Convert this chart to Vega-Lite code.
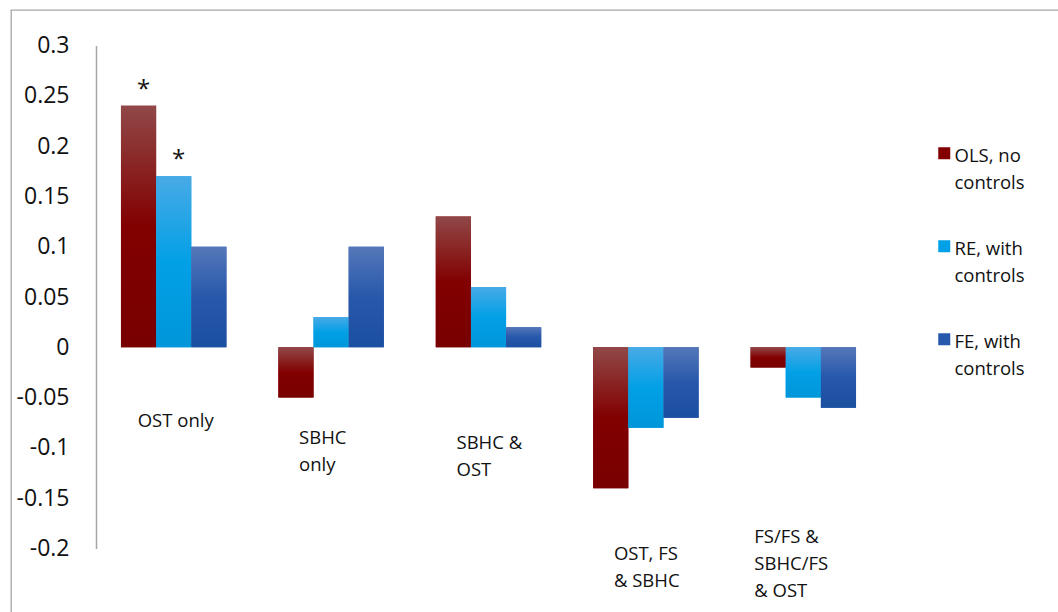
{
  "$schema": "https://vega.github.io/schema/vega-lite/v6.json",
  "width": 1050,
  "height": 605,
  "autosize": {"type": "none"},
  "padding": {"left": 11, "top": 10, "right": -3, "bottom": -3},
  "background": "white",
  "config": {
    "view": {"stroke": "#a6a6a6", "strokeWidth": 1.3},
    "font": "Open Sans",
    "text": {"font": "Open Sans", "color": "#111111"},
    "style": {"guide-label": {"lineHeight": 27}}
  },
  "datasets": {
    "bars": [
      {"category": "OST only", "series": "OLS, no controls", "value": 0.24, "sig": "*"},
      {"category": "OST only", "series": "RE, with controls", "value": 0.17, "sig": "*"},
      {"category": "OST only", "series": "FE, with controls", "value": 0.10, "sig": ""},
      {"category": "SBHC only", "series": "OLS, no controls", "value": -0.05, "sig": ""},
      {"category": "SBHC only", "series": "RE, with controls", "value": 0.03, "sig": ""},
      {"category": "SBHC only", "series": "FE, with controls", "value": 0.10, "sig": ""},
      {"category": "SBHC & OST", "series": "OLS, no controls", "value": 0.13, "sig": ""},
      {"category": "SBHC & OST", "series": "RE, with controls", "value": 0.06, "sig": ""},
      {"category": "SBHC & OST", "series": "FE, with controls", "value": 0.02, "sig": ""},
      {"category": "OST, FS & SBHC", "series": "OLS, no controls", "value": -0.14, "sig": ""},
      {"category": "OST, FS & SBHC", "series": "RE, with controls", "value": -0.08, "sig": ""},
      {"category": "OST, FS & SBHC", "series": "FE, with controls", "value": -0.07, "sig": ""},
      {"category": "FS/FS & SBHC/FS & OST", "series": "OLS, no controls", "value": -0.02, "sig": ""},
      {"category": "FS/FS & SBHC/FS & OST", "series": "RE, with controls", "value": -0.05, "sig": ""},
      {"category": "FS/FS & SBHC/FS & OST", "series": "FE, with controls", "value": -0.06, "sig": ""}
    ],
    "labels": [
      {"category": "OST only", "label": "OST only", "pos": -0.064, "group": "single"},
      {"category": "SBHC only", "label": "SBHC\nonly", "pos": -0.081, "group": "multi"},
      {"category": "SBHC & OST", "label": "SBHC &\nOST", "pos": -0.086, "group": "multi"},
      {"category": "OST, FS & SBHC", "label": "OST, FS\n& SBHC", "pos": -0.197, "group": "multi"},
      {"category": "FS/FS & SBHC/FS & OST", "label": "FS/FS &\nSBHC/FS\n& OST", "pos": -0.180, "group": "wide"}
    ]
  },
  "layer": [
    {
      "data": {"name": "bars"},
      "mark": {"type": "bar"},
      "encoding": {
        "x": {"field": "category", "type": "nominal", "sort": null,
          "scale": {"domain": ["OST only", "SBHC only", "SBHC & OST", "OST, FS & SBHC", "FS/FS & SBHC/FS & OST"], "range": [84, 871], "paddingInner": 0.33, "paddingOuter": 0.165},
          "axis": null},
        "xOffset": {"field": "series", "type": "nominal", "sort": null,
          "scale": {"domain": ["OLS, no controls", "RE, with controls", "FE, with controls"], "paddingInner": 0, "paddingOuter": 0}},
        "y": {"field": "value", "type": "quantitative",
          "scale": {"domain": [-0.2, 0.3], "range": [538.5, 35.5], "nice": false, "zero": true},
          "axis": {"values": [-0.2, -0.15, -0.1, -0.05, 0, 0.05, 0.1, 0.15, 0.2, 0.25, 0.3],
            "labelExpr": "'' + datum.value", "offset": -85, "grid": false, "ticks": false, "tickSize": 0,
            "domain": true, "domainColor": "#a6a6a6", "domainWidth": 1.5,
            "labelFont": "Open Sans", "labelFontSize": 23, "labelColor": "#111111", "labelPadding": 27,
            "title": null}},
        "color": {"field": "series", "type": "nominal", "sort": null,
          "scale": {"domain": ["OLS, no controls", "RE, with controls", "FE, with controls"], "range": ["#820000", "#02a0e6", "#2758ab"]},
          "legend": {"orient": "none", "legendX": 924, "legendY": 128, "title": null,
            "symbolType": "M-1,0H1V2H-1Z", "symbolSize": 144, "symbolStrokeWidth": 0,
            "labelExpr": "[replace(datum.label, ' controls', ''), 'controls']",
            "labelFont": "Open Sans", "labelFontSize": 18.5, "labelColor": "#111111",
            "labelBaseline": "top", "labelOffset": 1, "rowPadding": 38, "padding": 0, "labelLimit": 200}}
      }
    },
    {
      "data": {"name": "bars"},
      "transform": [{"filter": "datum.series === 'OLS, no controls'"}],
      "mark": {"type": "bar", "fill": {"gradient": "linear", "x1": 0, "y1": 0, "x2": 0, "y2": 1,
        "stops": [{"offset": 0, "color": "#914848"}, {"offset": 0.5, "color": "#820000"}, {"offset": 1, "color": "#780000"}]}},
      "encoding": {
        "x": {"field": "category", "type": "nominal", "sort": null},
        "xOffset": {"field": "series", "type": "nominal", "sort": null},
        "y": {"field": "value", "type": "quantitative"}
      }
    },
    {
      "data": {"name": "bars"},
      "transform": [{"filter": "datum.series === 'RE, with controls'"}],
      "mark": {"type": "bar", "fill": {"gradient": "linear", "x1": 0, "y1": 0, "x2": 0, "y2": 1,
        "stops": [{"offset": 0, "color": "#48aae6"}, {"offset": 0.5, "color": "#02a0e6"}, {"offset": 1, "color": "#0096d9"}]}},
      "encoding": {
        "x": {"field": "category", "type": "nominal", "sort": null},
        "xOffset": {"field": "series", "type": "nominal", "sort": null},
        "y": {"field": "value", "type": "quantitative"}
      }
    },
    {
      "data": {"name": "bars"},
      "transform": [{"filter": "datum.series === 'FE, with controls'"}],
      "mark": {"type": "bar", "fill": {"gradient": "linear", "x1": 0, "y1": 0, "x2": 0, "y2": 1,
        "stops": [{"offset": 0, "color": "#5577b9"}, {"offset": 0.5, "color": "#2758ab"}, {"offset": 1, "color": "#1b4fa0"}]}},
      "encoding": {
        "x": {"field": "category", "type": "nominal", "sort": null},
        "xOffset": {"field": "series", "type": "nominal", "sort": null},
        "y": {"field": "value", "type": "quantitative"}
      }
    },
    {
      "data": {"name": "bars"},
      "transform": [{"filter": "datum.sig !== ''"}],
      "mark": {"type": "text", "fontSize": 24, "baseline": "alphabetic", "align": "center", "dy": -9, "dx": 5},
      "encoding": {
        "x": {"field": "category", "type": "nominal", "sort": null},
        "xOffset": {"field": "series", "type": "nominal", "sort": null},
        "y": {"field": "value", "type": "quantitative"},
        "text": {"field": "sig", "type": "nominal"}
      }
    },
    {
      "data": {"name": "labels"},
      "transform": [{"filter": "datum.group === 'single'"}],
      "mark": {"type": "text", "fontSize": 18.5, "baseline": "top", "align": "center", "dx": 2, "lineBreak": "\n", "lineHeight": 27},
      "encoding": {
        "x": {"field": "category", "type": "nominal", "sort": null},
        "y": {"field": "pos", "type": "quantitative"},
        "text": {"field": "label", "type": "nominal"}
      }
    },
    {
      "data": {"name": "labels"},
      "transform": [{"filter": "datum.group === 'multi'"}],
      "mark": {"type": "text", "fontSize": 18.5, "baseline": "top", "align": "left", "dx": -32, "lineBreak": "\n", "lineHeight": 27},
      "encoding": {
        "x": {"field": "category", "type": "nominal", "sort": null},
        "y": {"field": "pos", "type": "quantitative"},
        "text": {"field": "label", "type": "nominal"}
      }
    },
    {
      "data": {"name": "labels"},
      "transform": [{"filter": "datum.group === 'wide'"}],
      "mark": {"type": "text", "fontSize": 18.5, "baseline": "top", "align": "left", "dx": -49, "lineBreak": "\n", "lineHeight": 27},
      "encoding": {
        "x": {"field": "category", "type": "nominal", "sort": null},
        "y": {"field": "pos", "type": "quantitative"},
        "text": {"field": "label", "type": "nominal"}
      }
    }
  ]
}
